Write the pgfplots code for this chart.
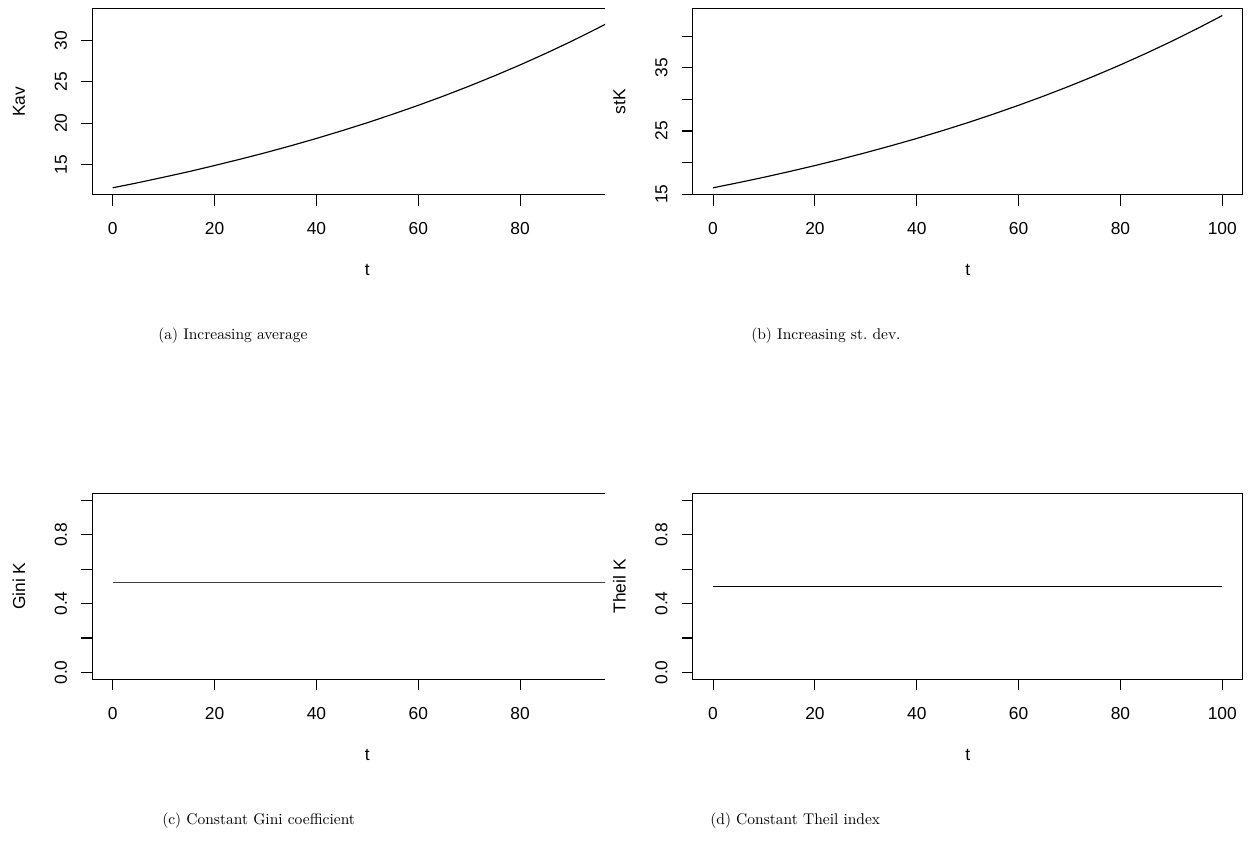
\documentclass[border=0pt]{standalone}
\usepackage{fontspec}
\usepackage{pgfplots}
\pgfplotsset{compat=1.18}
\newfontfamily\rfont{Liberation Sans}

% R-style panel
\pgfplotsset{rplot/.style={
  scale only axis, height=120.0pt, anchor=south west,
  axis line style={line width=0.8pt,-},
  tick align=outside, major tick length=7.1pt,
  tick style={line width=0.7pt, black},
  xtick pos=bottom, ytick pos=left,
  ticklabel style={font=\rfont\fontsize{11.2}{13}\selectfont},
  xticklabel style={anchor=base, yshift=-18.6pt},
  yticklabel style={xshift=-9.3pt, rotate=90, anchor=base},
  every axis x label/.style={at={(rel axis cs:0.5,0)}, anchor=center, yshift=-48.5pt,
    font=\rfont\fontsize{11.2}{13}\selectfont},
  every axis y label/.style={at={(rel axis cs:0,0.5)}, xshift=-47.3pt, rotate=90, anchor=center,
    font=\rfont\fontsize{11.2}{13}\selectfont},
  xlabel={t},
}}
\tikzset{rline/.style={black, no markers, line width=0.75pt}}

\begin{document}
\begin{tikzpicture}
\path (0pt,0pt) rectangle (806.9pt,543.1pt);

% (a)
\begin{axis}[rplot, at={(59.53pt,417.51pt)}, width=330.7pt,
  axis x line*=box, axis y line*=left,
  xmin=-4, xmax=96.66, ymin=11.368, ymax=33.832,
  xtick={0,20,40,60,80}, xticklabels={0,20,40,60,80},
  ytick={15,20,25,30}, yticklabels={15,20,25,30},
  every axis x label/.append style={at={(rel axis cs:0.5365,0)}},
  ylabel={Kav}]
\addplot[rline] coordinates {
(0,12.20) (5,12.82) (10,13.48) (15,14.16) (20,14.89) (25,15.65) (30,16.44)
(35,17.28) (40,18.16) (45,19.09) (50,20.06) (55,21.09) (60,22.16) (65,23.29)
(70,24.48) (75,25.73) (80,27.04) (85,28.42) (90,29.87) (95,31.40) (100,33.00)};
\end{axis}

% (b)
\begin{axis}[rplot, at={(446.79pt,417.51pt)}, width=354.75pt,
  xmin=-4, xmax=104, ymin=14.909, ymax=44.37,
  xtick={0,20,40,60,80,100}, xticklabels={0,20,40,60,80,100},
  ytick={15,20,25,30,35,40}, yticklabels={15,,25,,35,},
  ylabel={stK}]
\addplot[rline] coordinates {
(0,16.00) (5,16.82) (10,17.67) (15,18.58) (20,19.52) (25,20.52) (30,21.57)
(35,22.67) (40,23.82) (45,25.04) (50,26.31) (55,27.66) (60,29.07) (65,30.55)
(70,32.11) (75,33.75) (80,35.47) (85,37.28) (90,39.18) (95,41.18) (100,43.28)};
\end{axis}

% (c)
\begin{axis}[rplot, at={(59.53pt,104.94pt)}, width=330.7pt,
  axis x line*=box, axis y line*=left,
  xmin=-4, xmax=96.66, ymin=-0.04, ymax=1.04,
  xtick={0,20,40,60,80}, xticklabels={0,20,40,60,80},
  ytick={0,0.2,0.4,0.6,0.8,1.0}, yticklabels={0.0,,0.4,,0.8,},
  every axis x label/.append style={at={(rel axis cs:0.5365,0)}},
  ylabel={Gini K}]
\addplot[rline, black!75] coordinates {(0,0.52) (25,0.52) (50,0.52) (75,0.52) (100,0.52)};
\end{axis}

% (d)
\begin{axis}[rplot, at={(446.79pt,104.94pt)}, width=354.75pt,
  xmin=-4, xmax=104, ymin=-0.04, ymax=1.04,
  xtick={0,20,40,60,80,100}, xticklabels={0,20,40,60,80,100},
  ytick={0,0.2,0.4,0.6,0.8,1.0}, yticklabels={0.0,,0.4,,0.8,},
  ylabel={Theil K}]
\addplot[rline] coordinates {(0,0.50) (25,0.50) (50,0.50) (75,0.50) (100,0.50)};
\end{axis}

% sub-captions
\node[anchor=base west, inner sep=0pt] at (101.9pt,323.8pt) {(a) Increasing average};
\node[anchor=base west, inner sep=0pt] at (484.4pt,323.8pt) {(b) Increasing st.\ dev.};
\node[anchor=base west, inner sep=0pt] at (104.5pt,10.97pt) {(c) Constant Gini coefficient};
\node[anchor=base west, inner sep=0pt] at (458.0pt,10.97pt) {(d) Constant Theil index};
\end{tikzpicture}
\end{document}
